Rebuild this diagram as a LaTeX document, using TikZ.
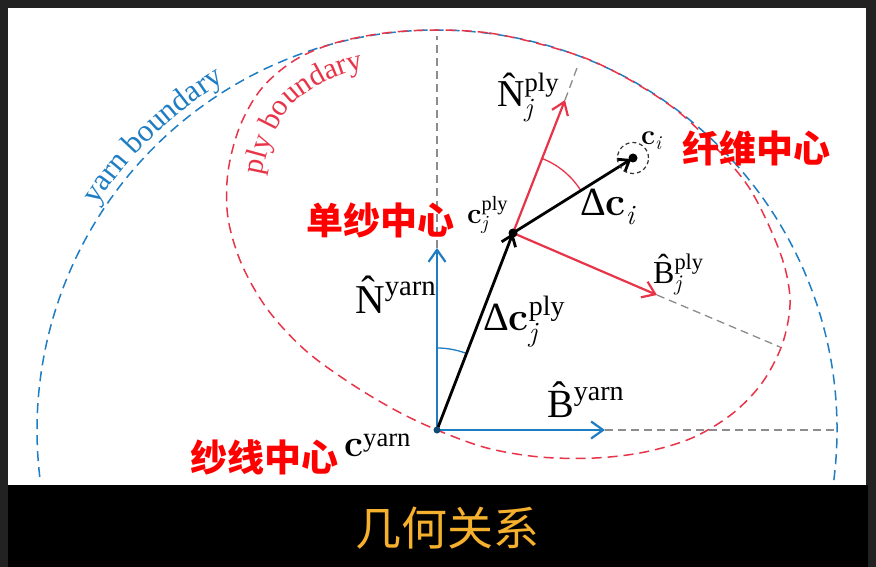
\documentclass[tikz,border=0pt]{standalone}
\usepackage{fontspec}
\setmainfont{Liberation Serif}
\newfontfamily\cjk{Noto Sans CJK SC}
\newfontfamily\lmr{Latin Modern Roman}[NFSSFamily=lmrx]
\DeclareMathAlphabet{\mathlmit}{TU}{lmrx}{m}{it}
\DeclareMathAlphabet{\mathlmbf}{TU}{lmrx}{bx}{n}
\usetikzlibrary{arrows.meta,decorations.text}
\definecolor{bgdark}{RGB}{34,34,34}
\definecolor{yarnblue}{RGB}{30,125,195}
\definecolor{plyred}{RGB}{232,52,72}
\definecolor{guidegray}{RGB}{140,140,140}
\definecolor{labelred}{RGB}{255,0,0}
\definecolor{titleorange}{RGB}{245,176,45}
\newcommand\fs[1]{\fontsize{#1}{#1}\selectfont}
\newcommand\hatN{\mbox{\rlap{\smash{\^{N}}}\phantom{N}}}
\newcommand\hatB{\mbox{\rlap{\smash{\^{B}}}\phantom{B}}}
\newcommand\Dl{\mbox{Δ}}
\newcommand\bc{\mathlmbf{c}}
\tikzset{
  bdline/.style={dash pattern=on 10pt off 6pt, line width=1.5pt},
  guide/.style={draw=guidegray, dash pattern=on 8pt off 5pt, line width=1.3pt},
  vecblue/.style={draw=yarnblue, line width=2.2pt, -{Straight Barb[length=12pt,width=17pt]}},
  vecred/.style={draw=plyred, line width=2.2pt, -{Straight Barb[length=12pt,width=17pt]}},
  vecblack/.style={draw=black, line width=2.8pt, -{Straight Barb[length=10pt,width=15pt]}},
  lbl/.style={anchor=base west, inner sep=0pt},
  cjklbl/.style={anchor=west, inner sep=0pt, text=labelred, font=\cjk\bfseries\fs{37}},
  dot/.style={circle, fill=black, inner sep=0pt, minimum size=9pt},
}
\begin{document}
\begin{tikzpicture}[x=1pt,y=-1pt]
\useasboundingbox (0,0) rectangle (876,567);
% frame
\fill[bgdark] (0,0) rectangle (876,567);
\fill[white] (8,8) rectangle (866,485);
\fill[black] (8,485) rectangle (868,567);

% key points
\coordinate (cy) at (437,430);
\coordinate (cj) at (513,233);
\coordinate (ci) at (633,158);
\coordinate (Nyend) at (437,248);
\coordinate (Nytop) at (437,36);
\coordinate (Byend) at (605,430);
\coordinate (Byfar) at (835,430);
\coordinate (Npend) at (565,100);
\coordinate (Npfar) at (577,68);
\coordinate (Bpend) at (657,295);
\coordinate (Bpfar) at (780,347);

% yarn boundary
\begin{scope}[shift={(437,430)}]
  \draw[yarnblue, bdline] (-7.2:400pt) arc[start angle=-7.2, end angle=187.2, radius=400pt];
  \path[decorate, decoration={text along path, text align=center, text color=yarnblue,
      text={|\fs{31}|yarn boundary}}]
      (160:408pt) arc[start angle=160, end angle=108, radius=408pt];
\end{scope}

% ply boundary
\draw[plyred, bdline] plot[smooth cycle, tension=0.55] coordinates {
  (437,30) (489,33) (540,44) (590,60) (637,84) (680,113) (718,150) (748,186)
  (770,228) (785,268) (790,305) (782,345) (762,383) (732,414) (692,438)
  (645,452) (595,458) (540,457) (487,448) (437,430) (395,410) (350,383)
  (305,350) (268,310) (242,265) (228,218) (228,172) (240,126) (262,88)
  (295,60) (335,43) (385,33)};
\path[decorate, decoration={text along path, text align=center, text color=plyred,
    text={|\fs{30}|ply boundary}}]
    plot[smooth, tension=0.55] coordinates {(262,232) (261,184) (271,142) (290,107) (321,84) (358,70) (400,64) (420,63)};

% guide lines
\draw[guide] (Nyend) -- (Nytop);
\draw[guide] (Byend) -- (Byfar);
\draw[guide] (Npend) -- (Npfar);
\draw[guide] (Bpend) -- (Bpfar);

% angle arcs
\draw[yarnblue, line width=1.3pt] (cy) ++(90:82pt) arc[start angle=90, end angle=68.9, radius=82pt];
\draw[plyred, line width=1.3pt] (cj) ++(68.6:80pt) arc[start angle=68.6, end angle=32, radius=80pt];

% vectors
\draw[vecblue] (cy) -- (Nyend);
\draw[vecblue] (cy) -- (Byend);
\draw[vecred] (cj) -- (Npend);
\draw[vecred] (cj) -- (Bpend);
\draw[vecblack] (cy) -- (cj);
\draw[vecblack, shorten >=2pt] (cj) -- (ci);

% points
\node[circle, fill=yarnblue!60!black, inner sep=0pt, minimum size=7pt] (cydot) at (cy) {};
\node[dot] (cjdot) at (cj) {};
\node[dot] (cidot) at (ci) {};
\node[circle, draw=black!80, dash pattern=on 4pt off 3pt, line width=1.2pt, minimum size=31pt, inner sep=0pt] (ciring) at (ci) {};

% math labels
\node[lbl, font=\fs{38}] (lNp) at (497,107) {$\hatN^{\mathrm{ply}}_{\mathlmit{j}}$};
\node[lbl, font=\fs{29}] (lcj) at (467,223) {$\bc^{\mathrm{ply}}_{\mathlmit{j}}$};
\node[lbl, font=\fs{28}] (lci) at (641,145) {$\bc_{\mathlmit{i}}$};
\node[lbl, font=\fs{40}] (ldci) at (580,215) {$\Dl\bc_{\mathlmit{i}}$};
\node[lbl, font=\fs{41}] (lNy) at (355,313) {$\hatN^{\mathrm{yarn}}$};
\node[lbl, font=\fs{40}] (lBy) at (547,417) {$\hatB^{\mathrm{yarn}}$};
\node[lbl, font=\fs{32}] (lBp) at (653,283) {$\hatB^{\mathrm{ply}}_{\mathlmit{j}}$};
\node[lbl, font=\fs{40}] (ldcj) at (483,330) {$\Dl\bc^{\mathrm{ply}}_{\mathlmit{j}}$};
\node[lbl, font=\fs{38}] (lcy) at (344,456) {$\bc^{\mathrm{yarn}}$};

% chinese labels
\node[cjklbl] (tfiber) at (682,148) {纤维中心};
\node[cjklbl] (tply) at (306,220) {单纱中心};
\node[cjklbl] (tyarn) at (190,457) {纱线中心};

% title
\node[font=\cjk\fs{46}, text=titleorange] (title) at (447,528) {几何关系};
\end{tikzpicture}
\end{document}
